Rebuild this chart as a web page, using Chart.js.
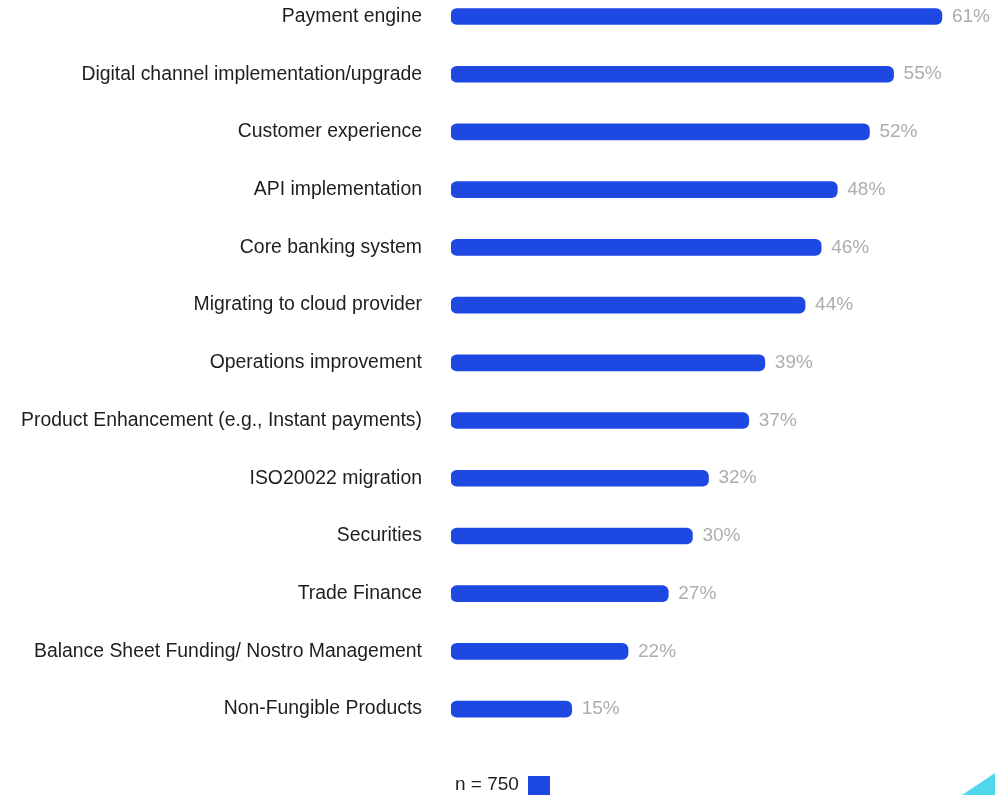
<!DOCTYPE html>
<html>
<head>
<meta charset="utf-8">
<script src="https://cdn.jsdelivr.net/npm/chart.js@4.4.1/dist/chart.umd.min.js"></script>
<style>
  html, body { margin: 0; padding: 0; background: #fff; overflow: hidden; }
  /* canvas schuift omhoog zodat de bovenste balk tegen de rand valt */
  #wrap { position: absolute; left: 0; top: -53px; width: 995px; height: 848px; }
</style>
</head>
<body>
<div id="wrap"><canvas id="chartCanvas"></canvas></div>
<script>
// Gebieden van investering en aandeel respondenten (%)
const categories = [
  "Payment engine",
  "Digital channel implementation/upgrade",
  "Customer experience",
  "API implementation",
  "Core banking system",
  "Migrating to cloud provider",
  "Operations improvement",
  "Product Enhancement (e.g., Instant payments)",
  "ISO20022 migration",
  "Securities",
  "Trade Finance",
  "Balance Sheet Funding/ Nostro Management",
  "Non-Fungible Products"
];
const shares = [61, 55, 52, 48, 46, 44, 39, 37, 32, 30, 27, 22, 15];
const sampleLabel = "n = 750";

const barColor = "#1d48e2";
const fontFamily = "'Liberation Sans', Arial, sans-serif";
const shiftY = 53; // zelfde als top-offset van #wrap

// percentages achter de balken + legenda onderaan
const extras = {
  id: "extras",
  afterDatasetsDraw(chart) {
    const ctx = chart.ctx;
    const meta = chart.getDatasetMeta(0);
    ctx.save();
    ctx.font = "19px " + fontFamily;
    ctx.fillStyle = "#adadad";
    ctx.textBaseline = "middle";
    ctx.textAlign = "left";
    meta.data.forEach((bar, i) => {
      ctx.fillText(shares[i] + "%", bar.x + 10, bar.y);
    });

    // legenda: tekst met blauw blokje erachter
    ctx.fillStyle = "#1e1e1e";
    ctx.textBaseline = "alphabetic";
    ctx.fillText(sampleLabel, 455, 790 + shiftY);
    ctx.fillStyle = barColor;
    ctx.fillRect(528, 776 + shiftY, 22, 20);

    // hoekje rechtsonder
    const h = chart.height;
    ctx.fillStyle = "#4fd8ea";
    ctx.beginPath();
    ctx.moveTo(995, h - 22);
    ctx.lineTo(995, h);
    ctx.lineTo(962, h);
    ctx.closePath();
    ctx.fill();
    ctx.restore();
  }
};

const ctx = document.getElementById("chartCanvas").getContext("2d");
new Chart(ctx, {
  type: "bar",
  data: {
    labels: categories,
    datasets: [
      {
        label: sampleLabel,
        data: shares,
        backgroundColor: barColor,
        borderRadius: 6,
        borderSkipped: false,
        barThickness: 16,
        categoryPercentage: 1,
      },
    ],
  },
  options: {
    indexAxis: "y",
    responsive: true,
    maintainAspectRatio: false,
    animation: false,
    layout: { padding: { top: 0, right: 0, bottom: 57, left: 0 } },
    plugins: {
      legend: { display: false },
      tooltip: { enabled: false },
    },
    scales: {
      x: {
        display: false,
        min: 0,
        max: 67.6,
      },
      y: {
        grid: { display: false, drawTicks: false },
        border: { display: false },
        ticks: {
          padding: 29,
          color: "#1e1e1e",
          font: { family: fontFamily, size: 19.4 },
        },
        afterFit(scale) {
          scale.width = 451;
        },
      },
    },
  },
  plugins: [extras],
});
</script>
</body>
</html>
